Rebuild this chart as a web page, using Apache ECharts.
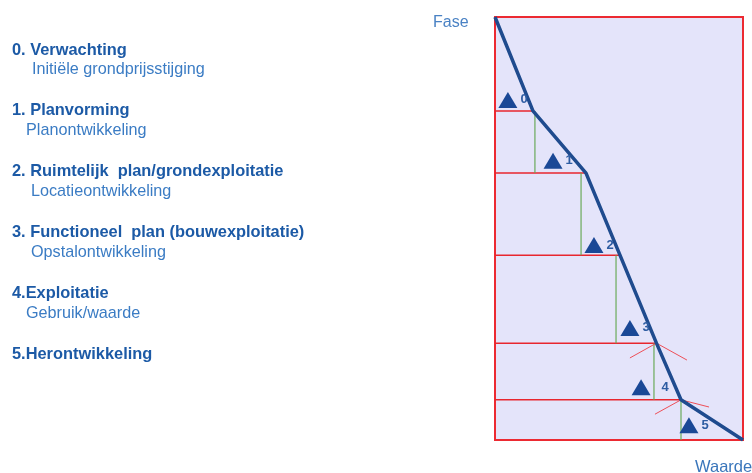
<!DOCTYPE html>
<html>
<head>
<meta charset="utf-8">
<script src="https://cdn.jsdelivr.net/npm/echarts@6/dist/echarts.min.js"></script>
<style>
  html, body { margin: 0; padding: 0; background: #fff; }
  #chart { width: 752px; height: 473px; }
</style>
</head>
<body>
<div id="chart"></div>
<script>
// fases (links)
var headings = ['0. Verwachting', '1. Planvorming', '2. Ruimtelijk  plan/grondexploitatie',
  '3. Functioneel  plan (bouwexploitatie)', '4.Exploitatie', '5.Herontwikkeling'];
var subs = ['Initiële grondprijsstijging', 'Planontwikkeling', 'Locatieontwikkeling',
  'Opstalontwikkeling', 'Gebruik/waarde', ''];

// waardelijn: waarde (x) tegen fase (y, van boven naar onder)
var waarde = [0, 15.3, 36.7, 50.4, 65.1, 75, 100];
var fase = [0, 22.2, 36.9, 56.3, 77.1, 90.5, 100];

// groene verticalen
var greenX = [16.1, 34.7, 48.8, 64.1, 75];

// driehoekjes met nummer
var triX = [5.2, 23.4, 39.9, 54.4, 58.9, 78.2];
var triY = [19.6, 34.0, 53.9, 73.5, 87.5, 96.5];
var triLabels = ['0', '1', '2', '3', '4', '5'];

// rode 'v'-strepen bij fase 3 en 4
var chevrons = [
  [[54.4, 80.6], [65.1, 77.1], [77.4, 81.1]],
  [[64.5, 93.9], [75, 90.5], [86.3, 92.2]]
];

var chart = echarts.init(document.getElementById('chart'));

var series = [];

// rode horizontale lijnen
for (var i = 1; i < waarde.length - 1; i++) {
  series.push({
    type: 'line', silent: true, symbol: 'none', z: 2,
    lineStyle: { color: '#e8262e', width: 1.5 },
    data: [[0, fase[i]], [waarde[i], fase[i]]]
  });
}
// groene verticale lijnen
for (var j = 0; j < greenX.length; j++) {
  series.push({
    type: 'line', silent: true, symbol: 'none', z: 2,
    lineStyle: { color: '#6aaa5a', width: 1.2 },
    data: [[greenX[j], fase[j + 1]], [greenX[j], fase[j + 2]]]
  });
}
chevrons.forEach(function (c) {
  series.push({
    type: 'line', silent: true, symbol: 'none', z: 2,
    lineStyle: { color: '#ee4f58', width: 1 },
    data: c
  });
});
// blauwe lijn
series.push({
  type: 'line', silent: true, symbol: 'none', z: 5,
  lineStyle: { color: '#1f4b8e', width: 3.5 },
  data: waarde.map(function (v, k) { return [v, fase[k]]; })
});
// driehoekjes
series.push({
  type: 'scatter', silent: true, symbol: 'triangle', symbolSize: [19, 16], z: 6,
  itemStyle: { color: '#1a4896', opacity: 1 },
  label: {
    show: true, position: 'right', distance: 3,
    color: '#2d5ca2', fontWeight: 'bold', fontSize: 13, fontFamily: 'Liberation Sans',
    formatter: function (p) { return triLabels[p.dataIndex]; }
  },
  data: triX.map(function (v, k) {
    var d = { value: [v, triY[k]] };
    if (k === 4) d.label = { distance: 11 };
    return d;
  })
});

// tekst links
var graphics = [];
for (var n = 0; n < headings.length; n++) {
  var y0 = 49 + n * 60.8;
  graphics.push({
    type: 'text', left: 12, top: y0 - 7,
    style: { text: headings[n], fill: '#1c5aa6', font: 'bold 16.4px "Liberation Sans", Arial' }
  });
  if (subs[n]) {
    graphics.push({
      type: 'text', left: [32, 26, 31, 31, 26][n], top: y0 + 13,
      style: { text: subs[n], fill: '#3b7cc4', font: '16.2px "Liberation Sans", Arial' }
    });
  }
}
graphics.push({
  type: 'text', left: 433, top: 15,
  style: { text: 'Fase', fill: '#4a82c4', font: '16px "Liberation Sans", Arial' }
});
graphics.push({
  type: 'text', left: 695, top: 459,
  style: { text: 'Waarde', fill: '#3a76bb', font: '16.5px "Liberation Sans", Arial' }
});

var option = {
  animation: false,
  grid: {
    left: 495, top: 17, width: 248, height: 423,
    show: true, backgroundColor: '#e4e4fa', borderColor: '#ec2a32', borderWidth: 2
  },
  xAxis: {
    type: 'value', min: 0, max: 100,
    axisLine: { show: false }, axisTick: { show: false },
    axisLabel: { show: false }, splitLine: { show: false }
  },
  yAxis: {
    type: 'value', min: 0, max: 100, inverse: true,
    axisLine: { show: false }, axisTick: { show: false },
    axisLabel: { show: false }, splitLine: { show: false }
  },
  graphic: graphics,
  series: series
};

chart.setOption(option);
</script>
</body>
</html>
